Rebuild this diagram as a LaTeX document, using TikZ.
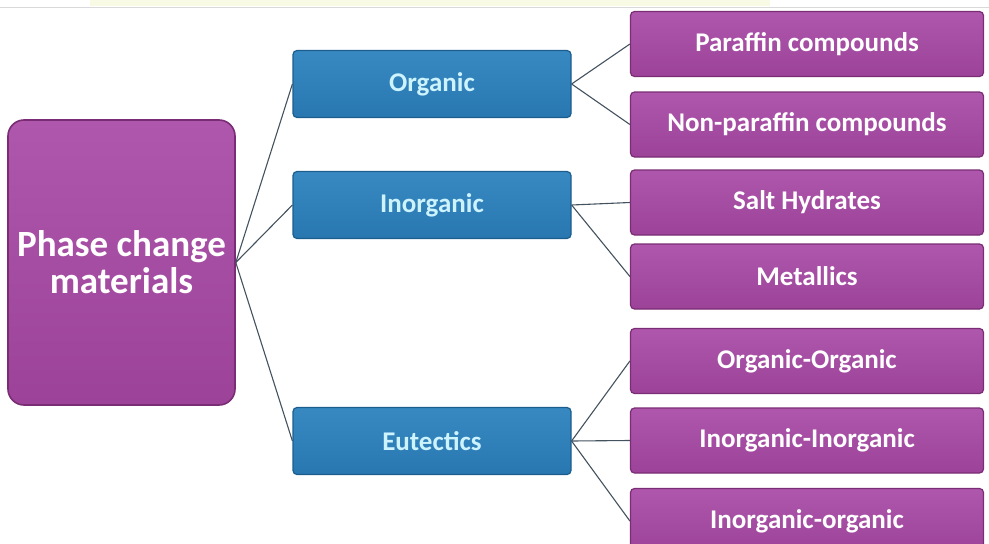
\documentclass[tikz,border=0pt]{standalone}
\usepackage{fontspec}
\setmainfont{Carlito}
\usetikzlibrary{positioning}
\definecolor{plum}{HTML}{9C4399}
\definecolor{plumlight}{HTML}{AE57AC}
\definecolor{plumdark}{HTML}{7A2C74}
\definecolor{steel}{HTML}{2877B0}
\definecolor{steellight}{HTML}{3889C2}
\definecolor{steeldark}{HTML}{1B5E8E}
\definecolor{icetext}{HTML}{CDF3FF}
\definecolor{wire}{HTML}{43525E}
\definecolor{paleband}{HTML}{F8FAE3}

\begin{document}
\begin{tikzpicture}[x=1pt, y=-1pt,
    rootbox/.style={draw=plumdark, line width=1.6pt, top color=plumlight, bottom color=plum,
      rounded corners=16pt, minimum width=227pt, minimum height=285pt, align=center,
      text=white, font=\bfseries\fontsize{37}{37}\selectfont},
    catbox/.style={draw=steeldark, line width=1.2pt, top color=steellight, bottom color=steel,
      rounded corners=4pt, minimum width=278pt, minimum height=67pt,
      text=icetext, font=\bfseries\fontsize{27}{30}\selectfont},
    leafbox/.style={draw=plumdark, line width=1.2pt, top color=plumlight, bottom color=plum,
      rounded corners=4pt, minimum width=353pt, minimum height=65pt,
      text=white, font=\bfseries\fontsize{27}{30}\selectfont},
    wire/.style={draw=wire, line width=1.1pt}]
    \useasboundingbox (0,0) rectangle (989,544);
    % faint strip left over at the top
    \fill[paleband] (90,0) rectangle (770,6);
    \draw[gray!30, line width=0.8pt] (0,7) -- (989,7);

    \node[rootbox] (pcm) at (121.5,262.5) {Phase change\\materials};

    \foreach \name/\ypos/\txt in {org/84/Organic, inorg/205/Inorganic, eut/441/Eutectics}{
      \node[catbox] (\name) at (432,\ypos) {\txt};
    }
    \foreach \name/\ypos/\txt in {par/44/Paraffin compounds, npar/124.5/Non-paraffin compounds,
        salt/202.5/Salt Hydrates, metal/276.5/Metallics, oo/361/Organic-Organic,
        ii/440.5/Inorganic-Inorganic, io/521/Inorganic-organic}{
      \node[leafbox] (\name) at (807,\ypos) {\txt};
    }

    \foreach \cat in {org, inorg, eut}{
      \draw[wire] (pcm.east) -- (\cat.west);
    }
    \foreach \cat/\leaf in {org/par, org/npar, inorg/salt, inorg/metal, eut/oo, eut/ii, eut/io}{
      \draw[wire] (\cat.east) -- (\leaf.west);
    }
  \end{tikzpicture}
\end{document}
